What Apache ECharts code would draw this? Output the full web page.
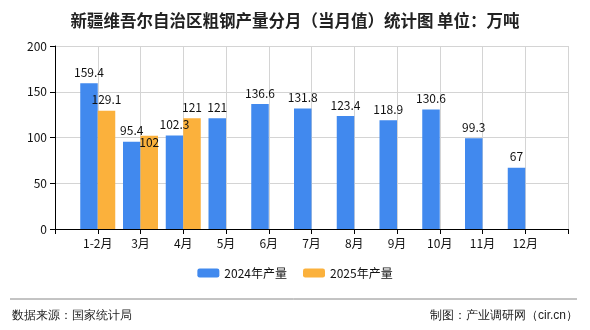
<!DOCTYPE html>
<html>
<head>
<meta charset="utf-8">
<script src="https://cdn.jsdelivr.net/npm/echarts@6/dist/echarts.min.js"></script>
<style>html,body{margin:0;padding:0;background:#fff;}#c{width:590px;height:330px;}</style>
</head>
<body>
<div id="c"></div>
<script>
var categories = ['', '1-2月', '3月', '4月', '5月', '6月', '7月', '8月', '9月', '10月', '11月', '12月', ''];
var s2024 = ['-', 159.4, 95.4, 102.3, 121, 136.6, 131.8, 123.4, 118.9, 130.6, 99.3, 67, '-'];
var s2025 = ['-', 129.1, 102, 121, '-', '-', '-', '-', '-', '-', '-', '-', '-'];
var yTicks = {min: 0, max: 200, interval: 50};
var FONT = '"Noto Sans CJK SC", "Noto Sans", sans-serif';

// the 3月 2025 label sits inside the bar top in the reference (overlap avoidance)
var data2025 = s2025.map(function (v, i) {
  if (i === 2) return {value: v, label: {position: 'insideTop', distance: 1}};
  return v;
});

var chart = echarts.init(document.getElementById('c'));
chart.setOption({
  animation: false,
  title: {
    text: '新疆维吾尔自治区粗钢产量分月（当月值）统计图 单位：万吨',
    left: 'center', top: 7,
    textStyle: {fontSize: 16.5, fontWeight: 'bold', color: '#222', fontFamily: FONT}
  },
  legend: {
    bottom: 46, left: 'center',
    itemWidth: 22, itemHeight: 9, itemGap: 16,
    textStyle: {fontSize: 12, color: '#111', fontFamily: FONT},
    data: ['2024年产量', '2025年产量']
  },
  grid: {left: 55, right: 22, top: 46, bottom: 101},
  xAxis: {
    type: 'category', data: categories, boundaryGap: false,
    axisLine: {lineStyle: {color: '#000'}},
    axisTick: {show: true, length: 5, lineStyle: {color: '#000'}},
    axisLabel: {interval: 0, color: '#111', fontSize: 12, margin: 8, fontFamily: FONT},
    splitLine: {show: true, lineStyle: {color: '#d4d4d4'}}
  },
  yAxis: {
    type: 'value', min: yTicks.min, max: yTicks.max, interval: yTicks.interval,
    axisLine: {show: true, lineStyle: {color: '#000'}},
    axisTick: {show: true, length: 5, lineStyle: {color: '#000'}},
    axisLabel: {color: '#111', fontSize: 12, margin: 8, fontFamily: FONT},
    splitLine: {show: true, lineStyle: {color: '#d4d4d4'}}
  },
  series: [
    {
      name: '2024年产量', type: 'bar', data: s2024, barWidth: 17.5, barGap: '0%',
      itemStyle: {color: '#4189ee'},
      label: {show: true, position: 'top', color: '#111', fontSize: 12, fontFamily: FONT, distance: 5}
    },
    {
      name: '2025年产量', type: 'bar', data: data2025, barWidth: 17.5,
      itemStyle: {color: '#fbb13c'},
      label: {show: true, position: 'top', color: '#111', fontSize: 12, fontFamily: FONT, distance: 5}
    }
  ],
  graphic: [
    {type: 'line', shape: {x1: 10, y1: 299, x2: 577, y2: 299}, style: {stroke: '#888', lineWidth: 1}},
    {type: 'text', left: 12, top: 310, style: {text: '数据来源：国家统计局', fontSize: 12, fill: '#222', font: '12px ' + FONT}},
    {type: 'text', right: 12, top: 310, style: {text: '制图：产业调研网（cir.cn）', fontSize: 12, fill: '#222', font: '12px ' + FONT}}
  ]
});
</script>
</body>
</html>
